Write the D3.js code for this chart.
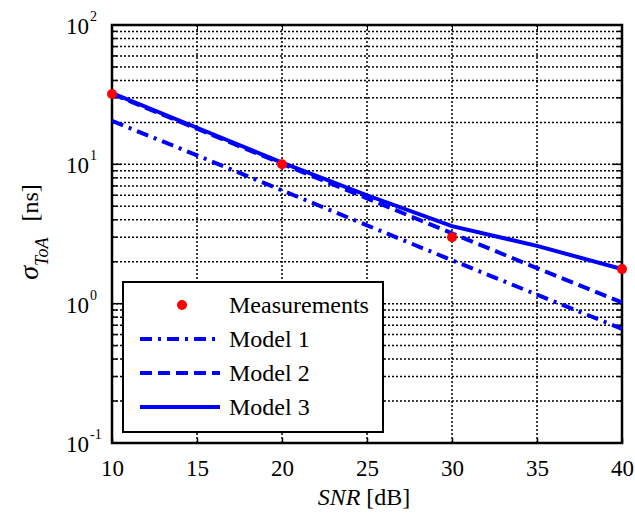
<!DOCTYPE html>
<html>
<head>
<meta charset="utf-8">
<script src="https://cdn.jsdelivr.net/npm/d3@7"></script>
<style>
  body { margin: 0; background: #fff; }
</style>
</head>
<body>
<svg id="chart" width="635" height="513"></svg>
<script>
const svg = d3.select("#chart");
const W = 635, H = 513;
const M = { left: 112, right: 13, top: 25, bottom: 70 };
const BLUE = "#0000ff";
const RED = "#ff0000";
const FONT = "Liberation Serif";

// data
const snr = [10, 15, 20, 25, 30, 35, 40];
const measSnr = [10, 20, 30, 40];
const measurements = [32, 10, 3.0, 1.77];
const model1 = [20.5, 11.6, 6.5, 3.65, 2.05, 1.16, 0.66];
const model2 = [32, 18.0, 10.1, 5.7, 3.2, 1.8, 1.02];
const model3 = [32.5, 18.3, 10.3, 6.0, 3.6, 2.6, 1.77];
const xTicks = [10, 15, 20, 25, 30, 35, 40];
const yDecades = [0.1, 1, 10, 100];
const legendLabels = ["Measurements", "Model 1", "Model 2", "Model 3"];

const x = d3.scaleLinear().domain([10, 40]).range([M.left, W - M.right]);
const y = d3.scaleLog().domain([0.1, 100]).range([H - M.bottom, M.top]);

// minor log ticks
const yMinor = [];
[0.1, 1, 10].forEach(d => { for (let k = 2; k <= 9; k++) yMinor.push(d * k); });

const grid = svg.append("g");
grid.selectAll(".hg")
    .data(yMinor.concat([1, 10]))
    .enter().append("line")
    .attr("x1", M.left).attr("x2", W - M.right)
    .attr("y1", d => y(d)).attr("y2", d => y(d))
    .attr("stroke", "#000").attr("stroke-width", 1.5)
    .attr("stroke-dasharray", "2,2");
grid.selectAll(".vg")
    .data(xTicks.slice(1, -1))
    .enter().append("line")
    .attr("x1", d => x(d)).attr("x2", d => x(d))
    .attr("y1", M.top).attr("y2", H - M.bottom)
    .attr("stroke", "#000").attr("stroke-width", 1.5)
    .attr("stroke-dasharray", "2,2");

// axes (ticks pointing inward)
svg.append("g")
    .attr("transform", `translate(0,${H - M.bottom})`)
    .call(d3.axisBottom(x).tickValues(xTicks).tickSize(-5).tickPadding(17).tickFormat(d3.format("d")))
    .call(g => g.select(".domain").remove())
    .call(g => g.selectAll("line").attr("stroke-width", 1.5))
    .call(g => g.selectAll("text").style("font-size", "23px").style("font-family", FONT).attr("fill", "#000"));

svg.append("g")
    .attr("transform", `translate(0,${M.top})`)
    .call(d3.axisTop(x).tickValues(xTicks).tickSize(-5).tickFormat(""))
    .call(g => g.select(".domain").remove());

[[M.left, 1], [W - M.right, -1]].forEach(([px, s]) => {
    svg.append("g").selectAll("line")
        .data(yMinor)
        .enter().append("line")
        .attr("x1", px).attr("x2", px + s * 5)
        .attr("y1", d => y(d)).attr("y2", d => y(d))
        .attr("stroke", "#000").attr("stroke-width", 1.5);
    svg.append("g").selectAll("line")
        .data(yDecades)
        .enter().append("line")
        .attr("x1", px).attr("x2", px + s * 9)
        .attr("y1", d => y(d)).attr("y2", d => y(d))
        .attr("stroke", "#000").attr("stroke-width", 1.5);
});

// y tick labels 10^n
svg.append("g").selectAll("text")
    .data(yDecades)
    .enter().append("text")
    .attr("x", M.left - 23)
    .attr("y", d => y(d) + 9)
    .attr("text-anchor", "end")
    .style("font-family", FONT)
    .style("font-size", "23px")
    .text("10");
svg.append("g").selectAll("text")
    .data(yDecades)
    .enter().append("text")
    .attr("x", M.left - 22)
    .attr("y", d => y(d) - 4)
    .style("font-family", FONT)
    .style("font-size", "14px")
    .text(d => Math.round(Math.log10(d)));

// box
svg.append("rect")
    .attr("x", M.left).attr("y", M.top)
    .attr("width", W - M.left - M.right).attr("height", H - M.top - M.bottom)
    .attr("fill", "none").attr("stroke", "#000").attr("stroke-width", 2.5);

// model lines
svg.append("clipPath").attr("id", "clip")
    .append("rect")
    .attr("x", M.left).attr("y", M.top)
    .attr("width", W - M.left - M.right).attr("height", H - M.top - M.bottom);

const line = d3.line().x((d, i) => x(snr[i])).y(d => y(d));
const plot = svg.append("g").attr("clip-path", "url(#clip)");
const series = [
    { vals: model1, dash: "12,6,3,6" },
    { vals: model2, dash: "12,6" },
    { vals: model3, dash: null }
];
series.forEach(s => {
    plot.append("path")
        .attr("d", line(s.vals))
        .attr("fill", "none")
        .attr("stroke", BLUE)
        .attr("stroke-width", 4)
        .attr("stroke-dasharray", s.dash);
});

svg.append("g").selectAll("circle")
    .data(measurements)
    .enter().append("circle")
    .attr("cx", (d, i) => x(measSnr[i]))
    .attr("cy", d => y(d))
    .attr("r", 5)
    .attr("fill", RED);

// axis labels
const xl = svg.append("text")
    .attr("x", 364).attr("y", 505)
    .attr("text-anchor", "middle")
    .style("font-family", FONT)
    .style("font-size", "24px");
xl.append("tspan").style("font-style", "italic").text("SNR");
xl.append("tspan").text(" [dB]");

const ylab = svg.append("text")
    .attr("transform", "translate(38,232) rotate(-90)")
    .attr("text-anchor", "middle")
    .style("font-family", FONT)
    .style("font-size", "24px");
ylab.append("tspan").style("font-style", "italic").style("font-size", "28px").text("σ");
ylab.append("tspan").style("font-style", "italic").style("font-size", "18px").attr("dy", 10).text("ToA");
ylab.append("tspan").attr("dy", -10).attr("dx", 16).text("[ns]");

// legend
const lg = svg.append("g");
lg.append("rect")
    .attr("x", 123).attr("y", 282).attr("width", 260).attr("height", 150)
    .attr("fill", "#fff").attr("stroke", "#000").attr("stroke-width", 2);
const rowY = [305, 339, 373, 407];
legendLabels.forEach((lab, i) => {
    if (i === 0) {
        lg.append("circle").attr("cx", 182).attr("cy", rowY[i]).attr("r", 5).attr("fill", RED);
    } else {
        lg.append("line")
            .attr("x1", 140).attr("x2", 220)
            .attr("y1", rowY[i]).attr("y2", rowY[i])
            .attr("stroke", BLUE).attr("stroke-width", 4)
            .attr("stroke-dasharray", series[i - 1].dash);
    }
    lg.append("text")
        .attr("x", 229).attr("y", rowY[i] + 8)
        .style("font-family", FONT)
        .style("font-size", "24px")
        .text(lab);
});
</script>
</body>
</html>
